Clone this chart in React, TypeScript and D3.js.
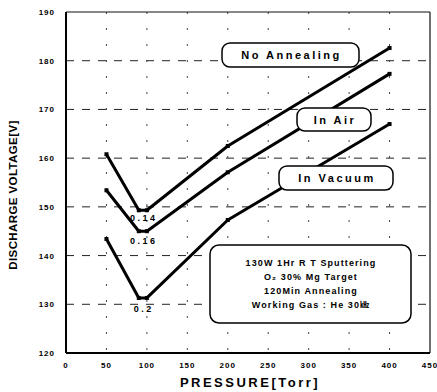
import React from "react";
import * as d3 from "d3";

const pressure = [50, 90, 100, 200, 400];
const noAnnealing = [160.8, 149.3, 149.3, 162.5, 182.6];
const inAir = [153.4, 145.0, 145.0, 157.1, 177.3];
const inVacuum = [143.4, 131.3, 131.3, 147.3, 167.0];
const seriesNames = ["No Annealing", "In Air", "In Vacuum"];
const minLabels = ["0.14", "0.16", "0.2"];
const xTicks = [0, 50, 100, 150, 200, 250, 300, 350, 400, 450];
const yTicks = [120, 130, 140, 150, 160, 170, 180, 190];
const gridY = [130, 140, 150, 160, 170, 180];
const gridX = [50, 100, 150, 200, 250, 300, 350, 400];
const infoLines = ["130W 1Hr R T Sputtering", "O\u2082 30% Mg Target", "120Min  Annealing", "Working Gas : He 30\u3391"];

const W = 437, H = 392;
const left = 66, right = 430, top = 12, bottom = 353;
const font = "'Liberation Sans', Arial, 'Noto Sans CJK SC', sans-serif";

export default function App() {
  const x = d3.scaleLinear().domain([0, 450]).range([left, right]);
  const y = d3.scaleLinear().domain([120, 190]).range([bottom, top]);
  const line = d3.line<number>().x((_, i) => x(pressure[i])).y((d) => y(d));
  const series = [noAnnealing, inAir, inVacuum];
  const labelDy = [10, 12, 13];
  const boxes = [
    { x0: 222, x1: 359, y0: 43, y1: 67 },
    { x0: 297, x1: 371, y0: 108, y1: 131 },
    { x0: 279, x1: 393, y0: 166, y1: 190 },
  ];
  return (
    <svg width={W} height={H} style={{ position: "absolute", left: 0, top: 0, background: "#fff" }} fontFamily={font}>
      <rect x={0} y={0} width={W} height={H} fill="#fff" />
      {gridY.map((v) => (
        <line key={"gy" + v} x1={left} x2={right} y1={y(v)} y2={y(v)} stroke="#222" strokeWidth={1} strokeDasharray="8,8" />
      ))}
      {gridX.map((v) => (
        <line key={"gx" + v} x1={x(v)} x2={x(v)} y1={top} y2={bottom} stroke="#444" strokeWidth={1} strokeDasharray="2,14" />
      ))}
      <line x1={left} x2={right} y1={top} y2={top} stroke="#111" strokeWidth={1} />
      <line x1={right} x2={right} y1={top} y2={bottom} stroke="#111" strokeWidth={1.2} />
      <line x1={left} x2={left} y1={top} y2={bottom} stroke="#000" strokeWidth={2} />
      <line x1={left} x2={right} y1={bottom} y2={bottom} stroke="#000" strokeWidth={2} />
      {yTicks.map((v) => (
        <text key={"yt" + v} x={55} y={y(v) + 3} textAnchor="end" fontSize={8} fontWeight="bold" letterSpacing={1}>{v}</text>
      ))}
      {xTicks.map((v) => (
        <text key={"xt" + v} x={x(v)} y={368} textAnchor="middle" fontSize={8} fontWeight="bold" letterSpacing={1}>{v}</text>
      ))}
      <text x={250} y={387} textAnchor="middle" fontSize={13} fontWeight="bold" letterSpacing={2.5}>PRESSURE[Torr]</text>
      <text transform={`translate(17,${195}) rotate(-90)`} textAnchor="middle" fontSize={11.5} fontWeight="bold" letterSpacing={0.4}>DISCHARGE VOLTAGE[V]</text>
      {series.map((s, k) => (
        <g key={"s" + k}>
          <path d={line(s) || ""} fill="none" stroke="#000" strokeWidth={3} strokeLinejoin="round" />
          {s.map((v, i) => (
            <rect key={i} x={x(pressure[i]) - 2} y={y(v) - 2} width={4} height={4} fill="#000" />
          ))}
          <text x={(x(pressure[1]) + x(pressure[2])) / 2 + 1} y={y(s[1]) + labelDy[k] + 1} textAnchor="middle" fontSize={9} fontWeight="bold" letterSpacing={2.5}>{minLabels[k]}</text>
        </g>
      ))}
      {boxes.map((b, k) => (
        <g key={"b" + k}>
          <rect x={b.x0} y={b.y0} width={b.x1 - b.x0} height={b.y1 - b.y0} rx={8} ry={8} fill="#fff" stroke="#000" strokeWidth={1.5} />
          <text x={(b.x0 + b.x1) / 2 + 1} y={(b.y0 + b.y1) / 2 + 4} textAnchor="middle" fontSize={11} fontWeight="bold" letterSpacing={2.5}>{seriesNames[k]}</text>
        </g>
      ))}
      <rect x={210} y={245} width={201} height={78} rx={9} ry={9} fill="#fff" stroke="#000" strokeWidth={1.5} />
      {infoLines.map((t, i) => (
        <text key={"il" + i} x={311} y={266 + i * 14} textAnchor="middle" fontSize={9} fontWeight="bold" letterSpacing={1.1}>{t}</text>
      ))}
    </svg>
  );
}
